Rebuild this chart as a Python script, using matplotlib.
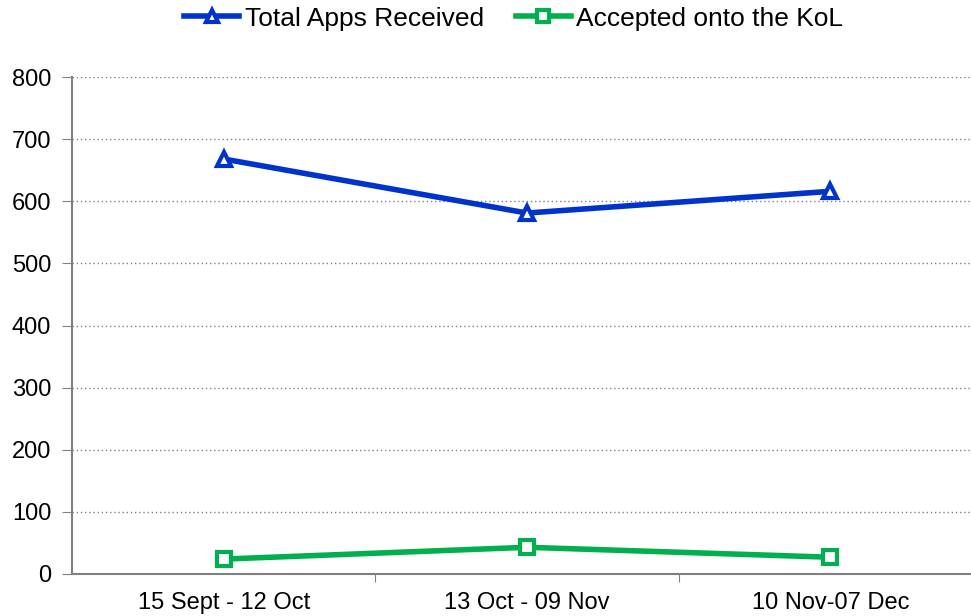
import matplotlib
matplotlib.use("Agg")
import matplotlib.pyplot as plt
from matplotlib.ticker import FixedLocator

categories = ["15 Sept - 12 Oct", "13 Oct - 09 Nov", "10 Nov-07 Dec"]
total_apps = [668, 581, 616]
accepted = [24, 43, 27]
yticks = [0, 100, 200, 300, 400, 500, 600, 700, 800]

plt.rcParams['font.family'] = ['Liberation Sans', 'DejaVu Sans']

fig = plt.figure(figsize=(9.71, 6.16), dpi=100)
left, right = 72 / 971, 982 / 971
bottom, top = (616 - 574) / 616, (616 - 77) / 616
ax = fig.add_axes([left, bottom, right - left, top - bottom])

x = list(range(len(categories)))
ax.plot(x, total_apps, color='#0033CC', lw=4, marker='^', ms=10, mfc='white',
        mec='#0033CC', mew=3, label='Total Apps Received', zorder=3, clip_on=False)
ax.plot(x, accepted, color='#00B050', lw=4, marker='s', ms=10, mfc='white',
        mec='#00B050', mew=3, label='Accepted onto the KoL', zorder=3, clip_on=False)

ax.set_xlim(-0.5, 2.5)
ax.set_ylim(0, 800)
ax.set_yticks(yticks)
ax.yaxis.grid(True, linestyle=(0, (1, 2)), color='#808080', lw=1)
ax.set_axisbelow(True)
ax.xaxis.set_major_locator(FixedLocator([0.5, 1.5]))
ax.xaxis.set_minor_locator(FixedLocator(x))
ax.set_xticklabels([], minor=False)
ax.set_xticks(x, categories, minor=True)
ax.tick_params(axis='x', which='minor', length=0, labelsize=17, pad=13)
ax.tick_params(axis='x', which='major', length=6, color='#808080', direction='out')
ax.tick_params(axis='y', length=7, color='#808080', labelsize=17, pad=8)
for s in ['top', 'right']:
    ax.spines[s].set_visible(False)
for s in ['left', 'bottom']:
    ax.spines[s].set_color('#808080')
    ax.spines[s].set_linewidth(1.5)

fig.legend(loc='upper center', bbox_to_anchor=(0.529, 1.028), ncol=2, frameon=False,
           fontsize=19, handlelength=2.1, columnspacing=1.2, handletextpad=0.2,
           markerscale=0.8)

fig.savefig('out.png', dpi=100)
